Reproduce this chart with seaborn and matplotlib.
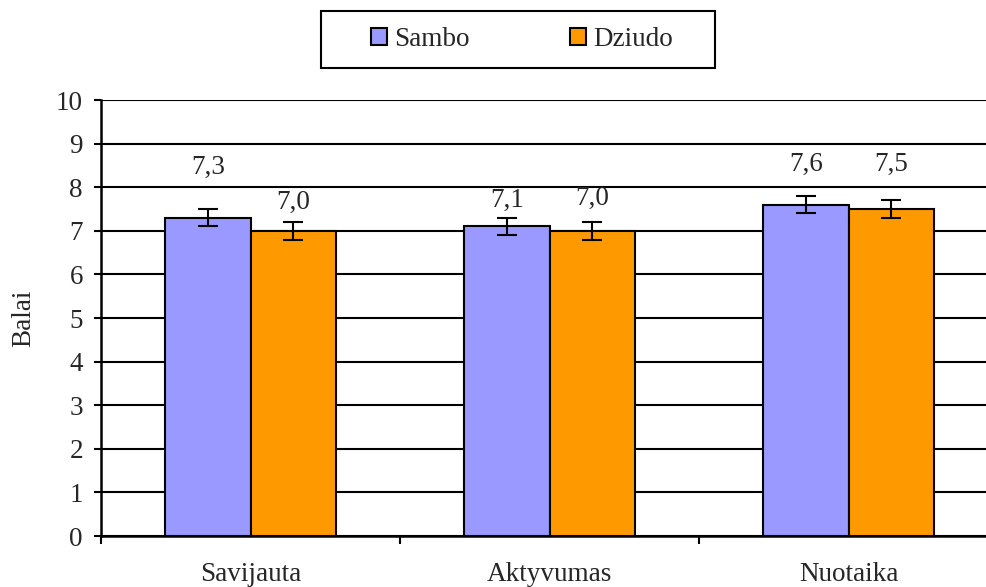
import pandas as pd
import numpy as np
import matplotlib
matplotlib.use("Agg")
import matplotlib.pyplot as plt
import seaborn as sns
from matplotlib.patches import Patch, Rectangle

categories = ["Savijauta", "Aktyvumas", "Nuotaika"]
groups = ["Sambo", "Dziudo"]
sambo = [7.3, 7.1, 7.6]
dziudo = [7.0, 7.0, 7.5]
sambo_err = [0.2, 0.2, 0.2]
dziudo_err = [0.2, 0.2, 0.2]
value_labels = {"Sambo": ["7,3", "7,1", "7,6"], "Dziudo": ["7,0", "7,0", "7,5"]}
colors = {"Sambo": "#9999FF", "Dziudo": "#FF9900"}

# where the Excel labels ended up (data units)
label_y = {"Sambo": [8.46, 7.7, 8.53], "Dziudo": [7.66, 7.75, 8.53]}

df = pd.DataFrame({
    "kat": categories * 2,
    "grupe": ["Sambo"] * 3 + ["Dziudo"] * 3,
    "balai": sambo + dziudo,
    "err": sambo_err + dziudo_err,
})

sns.set_style("white")
plt.rcParams["font.family"] = ["Liberation Serif", "DejaVu Serif"]
fs = 19.5

fig = plt.figure(figsize=(9.87, 5.87), dpi=100)
ax = fig.add_axes([101 / 987, 51 / 587, 897 / 987, 436 / 587])

sns.barplot(data=df, x="kat", y="balai", hue="grupe", hue_order=groups,
            palette=colors, saturation=1, width=0.57, gap=0, errorbar=None,
            edgecolor="black", linewidth=1.5, ax=ax, zorder=3, legend=False)

for i, g in enumerate(groups):
    cont = ax.containers[i]
    sub = df[df["grupe"] == g]
    xs = [p.get_x() + p.get_width() / 2 for p in cont.patches]
    ax.errorbar(xs, sub["balai"], yerr=sub["err"], fmt="none", ecolor="black",
                elinewidth=1.5, capsize=7.5, capthick=1.5, zorder=4)
    for x, ty, lab in zip(xs, label_y[g], value_labels[g]):
        ax.text(x, ty, lab, ha="center", va="center", fontsize=fs, zorder=5)

ax.set_ylim(0, 10)
ax.set_xlim(-0.5, 2.5)
ax.set_yticks(range(0, 11))
ax.yaxis.grid(True, color="black", linewidth=1.5, zorder=0)
ax.set_axisbelow(True)
for s in ["top", "right"]:
    ax.spines[s].set_visible(False)
for s in ["left", "bottom"]:
    ax.spines[s].set_color("black")
    ax.spines[s].set_linewidth(1.8)
    ax.spines[s].set_zorder(6)

ax.tick_params(axis="y", which="major", direction="out", length=5, width=1.5,
               color="black", left=True, labelsize=fs, pad=8)
ax.set_xticks([-0.5, 0.5, 1.5, 2.5], minor=True)
ax.tick_params(axis="x", which="minor", direction="out", length=6, width=1.5,
               color="black", bottom=True)
ax.tick_params(axis="x", which="major", length=0, labelsize=fs, pad=19)

ax.set_xlabel("")
ax.set_ylabel("Balai", fontsize=fs, labelpad=14)

# legend with its own frame box
handles = [Patch(facecolor=colors[g], edgecolor="black", linewidth=1.5, label=g) for g in groups]
fig.legend(handles=handles, loc="center", bbox_to_anchor=(522 / 987, 1 - 39.5 / 587),
           ncol=2, frameon=False, fontsize=fs, handlelength=0.6, handleheight=0.6,
           handletextpad=0.25, columnspacing=3.7)
fig.add_artist(Rectangle((321 / 987, 1 - 68 / 587), 394 / 987, 57 / 587,
                         transform=fig.transFigure, fill=False,
                         edgecolor="black", linewidth=1.5))

fig.savefig("out.png", dpi=100)
